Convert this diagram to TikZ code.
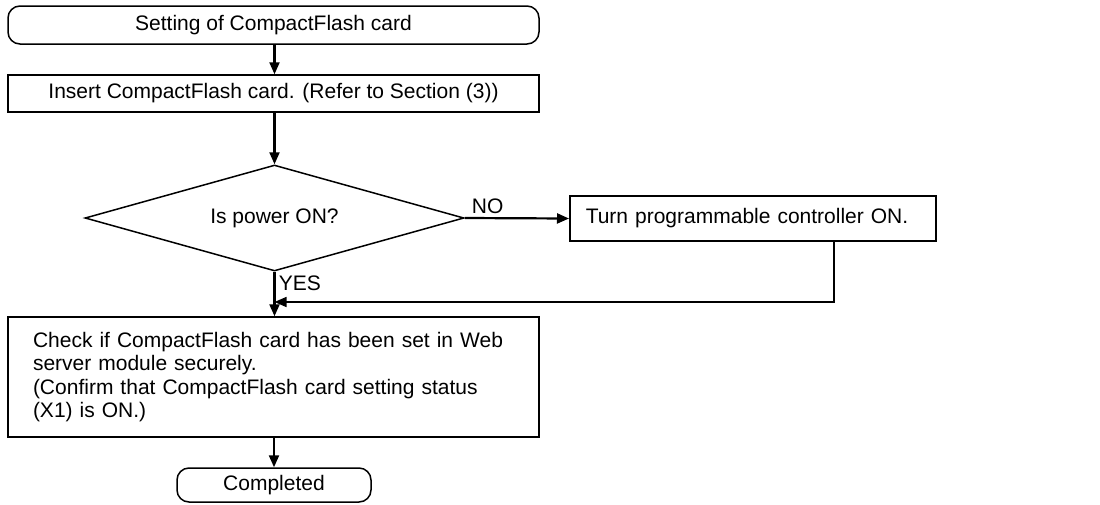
\documentclass[tikz,border=0pt]{standalone}
\usepackage{fontspec}
\setmainfont{Liberation Sans}
\usetikzlibrary{shapes.geometric,arrows.meta}

\tikzset{
  every node/.style={font=\fontsize{21pt}{23.5pt}\selectfont},
  termbox/.style={draw, line width=1.5pt, rounded corners=12pt, minimum height=38pt, inner sep=0pt},
  procbox/.style={draw, line width=1.5pt, inner sep=0pt},
  decide/.style={draw, diamond, aspect=4, line width=1.5pt, inner sep=0pt, minimum width=379pt, minimum height=106pt},
  flow/.style={line width=2.2pt, -{Triangle[length=12pt,width=10pt]}},
  back/.style={line width=1.5pt, -{Triangle[length=12pt,width=10pt]}}
}

\begin{document}
\begin{tikzpicture}[x=1pt, y=-1pt]
  \fill[white] (0,0) rectangle (1100,504);
  \useasboundingbox (0,0) rectangle (1100,504);

  \node[termbox, minimum width=531pt] (start) at (273.5, 25) {Setting of CompactFlash card};
  \node[procbox, minimum width=531pt, minimum height=37pt] (insert) at (273.5, 93.5) {Insert CompactFlash card. (Refer to Section (3))};
  \node[decide] (power) at (274.5, 218) {Is power ON?};
  \node[procbox, text width=334pt, inner xsep=16pt, minimum height=45pt, align=left, anchor=west] (turn) at (569, 218.5) {Turn programmable controller ON.};
  \node[procbox, text width=481pt, inner xsep=25pt, minimum height=120pt, align=left] (check) at (273.5, 377)
    {Check if CompactFlash card has been set in Web\\
     server module securely.\\
     (Confirm that CompactFlash card setting status\\
     (X1) is ON.)};
  \node[termbox, minimum width=194pt, minimum height=34pt] (done) at (274, 485) {Completed};
  \coordinate (ret) at (834, 302);

  \draw[flow] (start.south -| power.north) -- (insert.north -| power.north);
  \draw[flow] (insert.south -| power.north) -- (power.north);
  \draw[flow] (power.east) -- node[pos=0.22, above] {NO} (turn.west);
  \draw[flow] (power.south) -- node[pos=0.25, right] {YES} (check.north -| power.south);
  \draw[back] (turn.south -| ret) -- (ret) -- (ret -| power.south);
  \draw[flow] (check.south -| done.north) -- (done.north);
\end{tikzpicture}
\end{document}
